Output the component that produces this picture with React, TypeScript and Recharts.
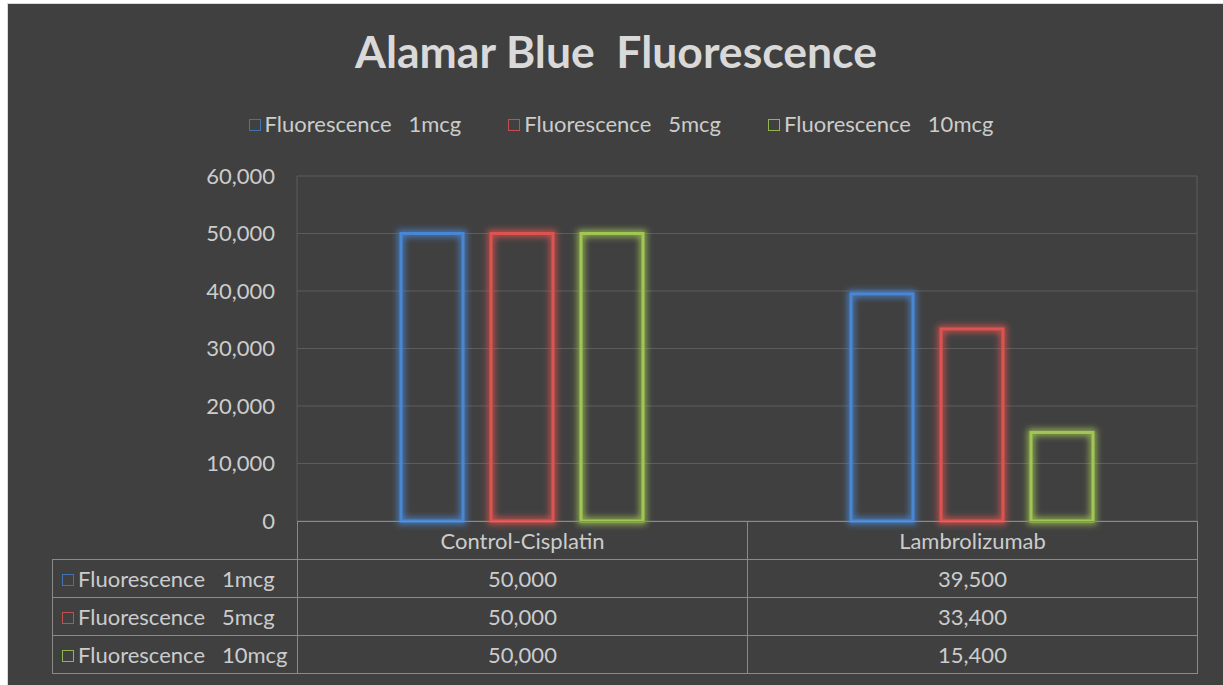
import React from 'react';
import { BarChart, Bar, XAxis, YAxis, CartesianGrid } from 'recharts';

const categories = ['Control-Cisplatin', 'Lambrolizumab'];
const fluor1mcg = [50000, 39500];
const fluor5mcg = [50000, 33400];
const fluor10mcg = [50000, 15400];
const seriesKeys = ['f1', 'f5', 'f10'];
const seriesNames = ['Fluorescence   1mcg', 'Fluorescence   5mcg', 'Fluorescence   10mcg'];
const seriesValues = [fluor1mcg, fluor5mcg, fluor10mcg];
const yTicks = [0, 10000, 20000, 30000, 40000, 50000, 60000];

const strokeColors = ['#4a86d4', '#dc5250', '#a2c653'];
const swatchColors = ['#4471b0', '#c0504d', '#93b550'];
const BG = '#404040';
const TITLE = '#d9d9d9';
const TEXT = '#cccccc';
const FONT = 'Lato, "Open Sans", sans-serif';

const data = categories.map((c, i) => ({
  category: c,
  f1: fluor1mcg[i],
  f5: fluor5mcg[i],
  f10: fluor10mcg[i],
}));

const fmt = (v: number) => v.toLocaleString('en-US');

function Swatch({ color }: { color: string }) {
  return (
    <span
      style={{
        display: 'inline-block',
        width: 10,
        height: 10,
        border: `1.5px solid ${color}`,
        marginRight: 4,
        verticalAlign: 'middle',
        position: 'relative',
        top: -1,
      }}
    />
  );
}

const makeShape = (color: string) => (props: any) => {
  const { x, y, width, height } = props;
  if (!height || height <= 0) return <g />;
  return (
    <rect
      x={x}
      y={y}
      width={width}
      height={height}
      fill="none"
      stroke={color}
      strokeWidth={3}
      filter="url(#glow)"
    />
  );
};

export default function App() {
  const cell: React.CSSProperties = {
    border: '1px solid #8a8a8a',
    padding: 0,
    textAlign: 'center',
    color: TEXT,
    fontSize: 22,
    fontFamily: FONT,
  };
  return (
    <div
      style={{
        position: 'absolute',
        left: 7,
        top: 3,
        width: 1230,
        height: 690,
        background: BG,
        border: '1px solid #d9d9d9',
        overflow: 'hidden',
      }}
    >
      <div
        style={{
          position: 'absolute',
          left: 0,
          top: 25,
          width: 1216,
          textAlign: 'center',
          color: TITLE,
          fontFamily: FONT,
          fontWeight: 'bold',
          fontSize: 44.5,
          lineHeight: 1,
          whiteSpace: 'pre',
        }}
      >
        Alamar Blue  Fluorescence
      </div>

      <div
        style={{
          position: 'absolute',
          left: 5,
          top: 106,
          width: 1216,
          display: 'flex',
          justifyContent: 'center',
          gap: 47,
          color: TEXT,
          fontFamily: FONT,
          fontSize: 22,
          whiteSpace: 'pre',
        }}
      >
        {seriesNames.map((n, i) => (
          <span key={n}>
            <Swatch color={swatchColors[i]} />
            {n}
          </span>
        ))}
      </div>

      <BarChart
        width={1216}
        height={682}
        data={data}
        margin={{ top: 172, right: 27, bottom: 165, left: 229 }}
        barSize={62}
        barGap={28}
        barCategoryGap={0}
      >
        <defs>
          <filter id="glow" x="-40%" y="-40%" width="180%" height="180%">
            <feMorphology in="SourceGraphic" operator="dilate" radius="2" result="thick" />
            <feGaussianBlur in="thick" stdDeviation="3" result="blur" />
            <feComponentTransfer in="blur" result="soft">
              <feFuncA type="linear" slope="0.8" />
            </feComponentTransfer>
            <feMerge>
              <feMergeNode in="soft" />
              <feMergeNode in="SourceGraphic" />
            </feMerge>
          </filter>
        </defs>
        <CartesianGrid xAxisId="grid" stroke="#5c5c5c" strokeWidth={1} />
        <XAxis dataKey="category" hide />
        <XAxis xAxisId="grid" type="number" domain={[0, 2]} ticks={[0, 1, 2]} hide />
        <YAxis
          width={60}
          domain={[0, 60000]}
          ticks={yTicks}
          tickFormatter={fmt}
          axisLine={false}
          tickLine={false}
          tickSize={0}
          tickMargin={22}
          tick={{ fill: TEXT, fontSize: 22, fontFamily: FONT }}
        />
        {seriesKeys.map((k, i) => (
          <Bar
            key={k}
            dataKey={k}
            name={seriesNames[i]}
            isAnimationActive={false}
            shape={makeShape(strokeColors[i])}
          />
        ))}
      </BarChart>

      <table
        style={{
          position: 'absolute',
          left: 44,
          top: 517,
          borderCollapse: 'collapse',
          tableLayout: 'fixed',
          width: 1146,
        }}
      >
        <colgroup>
          <col style={{ width: 245 }} />
          <col style={{ width: 450 }} />
          <col style={{ width: 450 }} />
        </colgroup>
        <tbody>
          <tr style={{ height: 38 }}>
            <td style={{ ...cell, borderTop: 'none', borderLeft: 'none' }} />
            {categories.map((c) => (
              <td key={c} style={cell}>
                {c}
              </td>
            ))}
          </tr>
          {seriesNames.map((n, i) => (
            <tr key={n} style={{ height: 38 }}>
              <td style={{ ...cell, textAlign: 'left', paddingLeft: 9, whiteSpace: 'pre', overflow: 'hidden' }}>
                <Swatch color={swatchColors[i]} />
                {n}
              </td>
              {seriesValues[i].map((v, j) => (
                <td key={j} style={cell}>
                  {fmt(v)}
                </td>
              ))}
            </tr>
          ))}
        </tbody>
      </table>
    </div>
  );
}
